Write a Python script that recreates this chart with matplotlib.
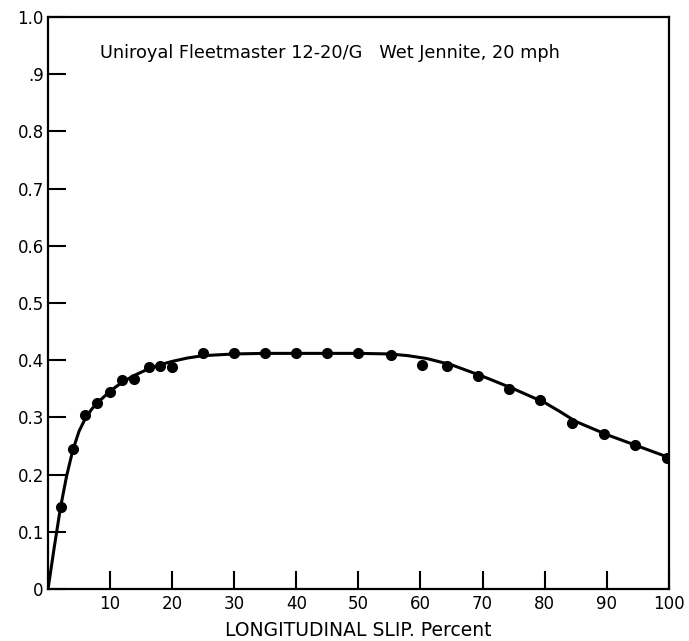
import matplotlib.pyplot as plt

# measured points: longitudinal slip (%) vs friction coefficient
slip = [2.1, 4.1, 5.9, 7.9, 10.0, 11.9, 13.8, 16.3, 18.0, 20.0,
        24.9, 30.0, 35.0, 40.0, 45.0, 50.0, 55.2, 60.2, 64.2, 69.3,
        74.3, 79.3, 84.4, 89.6, 94.5, 99.7]
mu = [0.144, 0.245, 0.304, 0.326, 0.345, 0.366, 0.367, 0.389, 0.390, 0.389,
      0.412, 0.412, 0.412, 0.412, 0.412, 0.412, 0.410, 0.391, 0.390, 0.372,
      0.350, 0.330, 0.290, 0.271, 0.251, 0.229]

# faired curve drawn through the data
curve_slip = [0, 1, 2, 3, 4, 5, 6, 7, 8, 10, 12, 14, 16, 18, 20, 22.5, 25,
              30, 35, 40, 45, 50, 55, 58, 61, 65, 70, 75, 80, 82.5, 85,
              90, 95, 100]
curve_mu = [0.0, 0.073, 0.142, 0.198, 0.243, 0.276, 0.298, 0.314, 0.326,
            0.346, 0.362, 0.374, 0.384, 0.392, 0.398, 0.404, 0.408,
            0.411, 0.412, 0.412, 0.412, 0.412, 0.411, 0.408, 0.403, 0.392,
            0.372, 0.350, 0.326, 0.310, 0.293, 0.270, 0.250, 0.230]

x_ticks = [10, 20, 30, 40, 50, 60, 70, 80, 90, 100]
y_ticks = [0, 0.1, 0.2, 0.3, 0.4, 0.5, 0.6, 0.7, 0.8, 0.9, 1.0]
y_labels = ["0", "0.1", "0.2", "0.3", "0.4", "0.5", "0.6", "0.7", "0.8",
            ".9", "1.0"]

plt.rcParams["font.family"] = "DejaVu Sans"

fig = plt.figure(figsize=(6.89, 6.41), dpi=100)
ax = fig.add_axes([0.0697, 0.081, 0.901, 0.8925])

ax.plot(curve_slip, curve_mu, color="black", lw=2.2, solid_capstyle="round",
        zorder=3)
ax.plot(slip, mu, "o", color="black", ms=7, zorder=4)

ax.set_xlim(0, 100)
ax.set_ylim(0, 1.0)
ax.set_xticks(x_ticks)
ax.set_yticks(y_ticks)
ax.set_yticklabels(y_labels)
ax.tick_params(direction="in", length=13, width=1.5, labelsize=12,
               colors="black")
ax.tick_params(axis="x", pad=4)
ax.tick_params(axis="y", pad=3)
for side in ax.spines.values():
    side.set_linewidth(1.6)

ax.text(8.3, 0.937, "Uniroyal Fleetmaster 12-20/G   Wet Jennite, 20 mph",
        fontsize=12.8, va="center", ha="left")
ax.set_xlabel("LONGITUDINAL SLIP. Percent", fontsize=13.5, va="center")
ax.xaxis.set_label_coords(0.5, -0.072)

fig.savefig("out.png", dpi=100)
